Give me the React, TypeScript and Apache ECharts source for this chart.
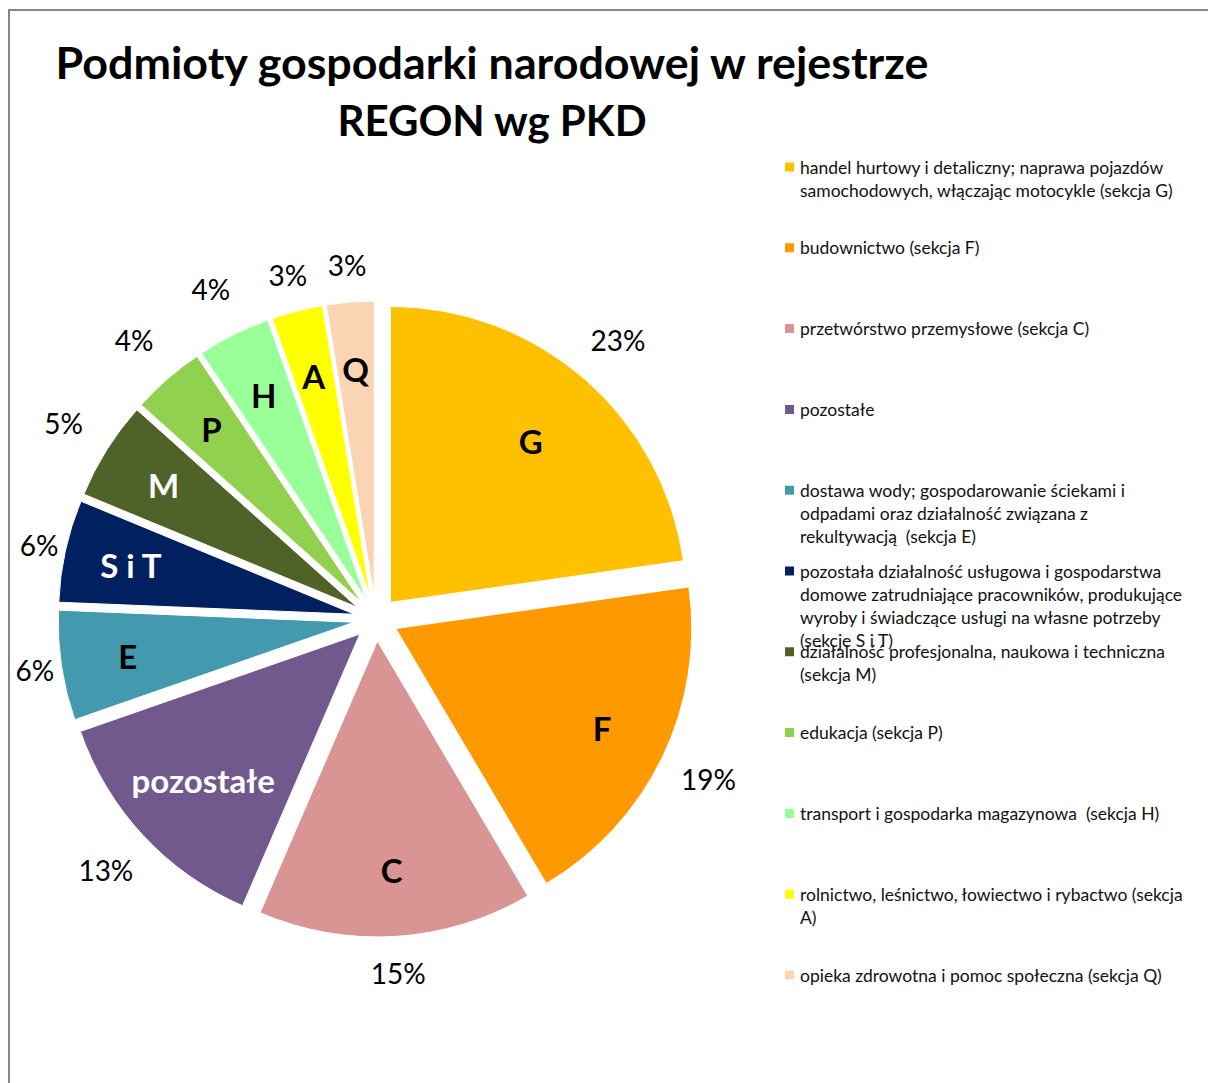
import React, { useEffect, useRef } from "react";
import * as echarts from "echarts";

const titleLines = ["Podmioty gospodarki narodowej w rejestrze", "REGON wg PKD"];

const categories = [
  "handel hurtowy i detaliczny; naprawa pojazdów\nsamochodowych, włączając motocykle (sekcja G)",
  "budownictwo (sekcja F)",
  "przetwórstwo przemysłowe (sekcja C)",
  "pozostałe",
  "dostawa wody; gospodarowanie ściekami i\nodpadami oraz działalność związana z\nrekultywacją  (sekcja E)",
  "pozostała działalność usługowa i gospodarstwa\ndomowe zatrudniające pracowników, produkujące\nwyroby i świadczące usługi na własne potrzeby\n(sekcje S i T)",
  "działalność profesjonalna, naukowa i techniczna\n(sekcja M)",
  "edukacja (sekcja P)",
  "transport i gospodarka magazynowa  (sekcja H)",
  "rolnictwo, leśnictwo, łowiectwo i rybactwo (sekcja\nA)",
  "opieka zdrowotna i pomoc społeczna (sekcja Q)",
];

const codes = ["G", "F", "C", "pozostałe", "E", "S i T", "M", "P", "H", "A", "Q"];

const values = [22.8, 18.8, 15.0, 13.2, 6.0, 5.6, 5.4, 4.0, 4.0, 2.8, 2.6];

const colors = [
  "#FFC000",
  "#FF9900",
  "#D99594",
  "#71598E",
  "#4399AE",
  "#002060",
  "#4F6228",
  "#92D050",
  "#99FF99",
  "#FFFF00",
  "#FBD4B4",
];

const codeLabelColors = ["#000", "#000", "#000", "#fff", "#000", "#fff", "#fff", "#000", "#000", "#000", "#000"];

// label placement groups (style): which ring each label sits on
const codeRing = [0, 1, 1, 0, 1, 1, 1, 1, 1, 1, 1];
const pctRing = [2, 2, 1, 2, 0, 0, 2, 2, 2, 1, 1];

const FONT = "Lato, 'Open Sans', sans-serif";

export default function App() {
  const ref = useRef<HTMLDivElement>(null);

  useEffect(() => {
    if (!ref.current) return;
    const chart = echarts.init(ref.current, null, { renderer: "svg" });

    const center = [376, 619];
    const lineH = 23;
    const legendFirstY = 167;
    const legendStep = 80.8;

    const legends = categories.map((name, i) => {
      const n = name.split("\n").length;
      const firstY = legendFirstY + i * legendStep;
      return {
        data: [name],
        left: 783,
        top: firstY - ((2 * n - 1) * lineH) / 2,
        orient: "vertical",
        padding: 0,
        itemWidth: 11,
        itemHeight: 11,
        icon: "rect",
        selectedMode: false,
        formatter: (nm: string) => "\n".repeat(n - 1) + nm,
        textStyle: {
          fontFamily: FONT,
          fontSize: 17.5,
          color: "#111",
          lineHeight: lineH,
        },
      };
    });

    const labelRing = (radius: number[], show: boolean[], label: any, names: string[]) => ({
      type: "pie",
      center,
      radius,
      startAngle: 90,
      silent: true,
      emphasis: { disabled: true },
      itemStyle: { color: "transparent" },
      labelLine: { show: false },
      label: { show: true, position: "inside", fontFamily: FONT, ...label },
      data: names.map((nm, i) => ({
        name: nm,
        value: values[i],
        label: { show: show[i], color: label.colorArr ? label.colorArr[i] : "#000" },
      })),
    });

    const codeStyle = {
      fontWeight: "bold",
      fontSize: 33,
      colorArr: codeLabelColors,
      formatter: (p: any) => p.name,
    };
    const pctStyle = {
      fontSize: 28,
      formatter: (p: any) => `${Math.round(p.percent)}%`,
    };

    const codeRadii = [[170, 296], [200, 296]];
    const pctRadii = [[312, 372], [322, 382], [336, 396]];

    const codeSeries = codeRadii.map((r, k) =>
      labelRing(r, codeRing.map((g) => g === k), codeStyle, codes.map((c) => c + "\u200b".repeat(k + 1)))
    );
    const pctSeries = pctRadii.map((r, k) =>
      labelRing(r, pctRing.map((g) => g === k), pctStyle, codes.map((c) => c + " " + "\u200b".repeat(k)))
    );

    const option = {
      animation: false,
      backgroundColor: "#fff",
      legend: legends,
      graphic: [
        {
          type: "rect",
          shape: { x: 9, y: 10, width: 1400, height: 1300 },
          style: { fill: "none", stroke: "#868686", lineWidth: 2 },
          silent: true,
        },
        {
          type: "text",
          x: 492,
          y: 62,
          style: {
            text: titleLines[0],
            font: `bold 44.8px ${FONT}`,
            fill: "#000",
            textAlign: "center",
            textVerticalAlign: "middle",
          },
        },
        {
          type: "text",
          x: 492,
          y: 120,
          style: {
            text: titleLines[1],
            font: `bold 42px ${FONT}`,
            fill: "#000",
            textAlign: "center",
            textVerticalAlign: "middle",
          },
        },
      ],
      series: [
        {
          type: "pie",
          center,
          radius: 296,
          startAngle: 90,
          clockwise: true,
          selectedMode: "multiple",
          selectedOffset: 22,
          silent: true,
          label: { show: false },
          labelLine: { show: false },
          emphasis: { disabled: true },
          itemStyle: { borderColor: "#fff", borderWidth: 1 },
          data: categories.map((name, i) => ({
            name,
            value: values[i],
            selected: true,
            itemStyle: { color: colors[i] },
          })),
        },
        ...codeSeries,
        ...pctSeries,
      ],
    };

    chart.setOption(option as any);
    return () => chart.dispose();
  }, []);

  return (
    <div
      ref={ref}
      style={{ position: "absolute", left: 0, top: 0, width: 1208, height: 1083 }}
    />
  );
}
